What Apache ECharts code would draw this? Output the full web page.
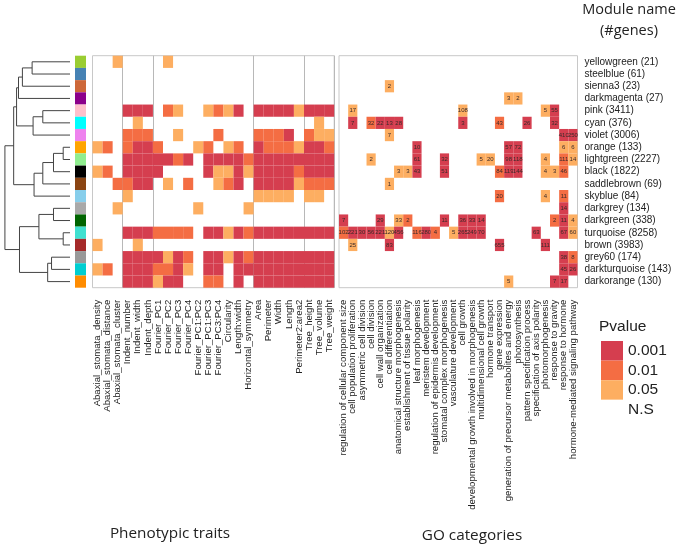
<!DOCTYPE html>
<html><head><meta charset="utf-8">
<script src="https://cdn.jsdelivr.net/npm/echarts@6/dist/echarts.min.js"></script>
<style>html,body{margin:0;padding:0;background:#fff}#c{width:680px;height:548px}</style>
</head><body><div id="c"></div>
<script>
const modules = ['yellowgreen','steelblue','sienna3','darkmagenta','pink','cyan','violet','orange','lightgreen','black','saddlebrown','skyblue','darkgrey','darkgreen','turquoise','brown','grey60','darkturquoise','darkorange'];
const moduleGenes = [21,61,23,27,3411,376,3006,133,2227,1822,69,84,134,338,8258,3983,174,143,130];
const moduleColors = ['#9ACD32','#4682B4','#CD6839','#8B008B','#FFC0CB','#00FFFF','#EE82EE','#FFA500','#90EE90','#000000','#8B4513','#87CEEB','#A9A9A9','#006400','#40E0D0','#A52A2A','#999999','#00CED1','#FF8C00'];
const traits = ['Abaxial_stomata_density','Abaxial_stomata_distance','Abaxial_stomata_cluster','Indent_number','Indent_width','Indent_depth','Fourier_PC1','Fourier_PC2','Fourier_PC3','Fourier_PC4','Fourier_PC1:PC2','Fourier_PC1:PC3','Fourier_PC3:PC4','Circularity','Length:width','Horizontal_symmetry','Area','Perimeter','Width','Length','Perimeter2:area2','Tree_height','Tree_volume','Tree_weight'];
const traitGroupStarts = [3,6,16,21];
const goTerms = ['regulation of cellular component size','cell population proliferation','asymmetric cell division','cell division','cell wall organization','cell differentiation','anatomical structure morphogenesis','establishment of tissue polarity','leaf morphogenesis','meristem development','regulation of epidermis development','stomatal complex morphogenesis','vasculature development','cell growth','developmental growth involved in morphogenesis','multidimensional cell growth','hormone transport','gene expression','generation of precursor metabolites and energy','photosynthesis','pattern specification process','specification of axis polarity','photomorphogenesis','response to gravity','response to hormone','hormone-mediated signaling pathway'];
const pLevels = ['0.001','0.01','0.05','N.S'];
// level per module row (1 = 0.001, 2 = 0.01, 3 = 0.05, 0 = N.S)
const traitLevels = [
 [0,0,3,0,0,0,0,3,0,0,0,0,0,0,0,0,0,0,0,0,0,0,0,0],
 [0,0,0,0,0,0,0,0,0,0,0,0,0,0,0,0,0,0,0,0,0,0,0,0],
 [0,0,0,0,0,0,0,0,0,0,0,0,0,0,0,0,0,0,0,0,0,0,0,0],
 [0,0,0,0,0,0,0,0,0,0,0,0,0,0,0,0,0,0,0,0,0,0,0,0],
 [0,0,0,1,1,1,0,2,3,0,0,3,2,3,1,0,1,1,1,1,3,1,1,1],
 [0,0,0,0,3,0,0,0,0,0,0,0,0,0,0,0,0,0,0,0,0,0,3,0],
 [0,0,0,2,2,2,0,0,3,0,0,0,2,0,0,0,2,2,2,1,0,2,3,3],
 [3,2,0,2,1,1,2,0,0,0,3,2,0,3,2,0,1,2,2,2,3,1,1,2],
 [0,0,0,1,1,1,1,1,2,1,0,1,1,1,1,2,1,1,1,1,1,1,1,1],
 [3,2,0,1,1,1,1,0,0,0,0,1,3,3,1,3,1,1,1,1,2,1,1,1],
 [0,0,2,2,1,1,0,3,0,2,0,0,3,2,1,0,1,1,1,1,3,2,2,2],
 [0,0,0,3,0,0,0,0,0,0,0,0,0,0,0,0,3,3,3,3,0,3,3,0],
 [0,0,3,0,0,0,0,0,0,0,3,0,0,0,0,3,0,0,0,0,0,0,0,0],
 [0,0,0,0,0,0,0,0,0,0,0,0,0,0,0,0,0,0,0,0,0,0,0,0],
 [0,0,0,1,1,1,2,2,2,2,0,1,1,3,1,2,1,1,1,1,1,1,1,1],
 [3,0,0,0,3,0,0,0,0,0,0,0,0,0,0,0,0,0,0,0,0,0,0,0],
 [0,0,0,1,1,1,1,3,1,2,0,1,1,3,1,2,1,1,1,1,1,1,1,1],
 [3,2,0,1,1,1,2,2,1,3,0,1,1,0,1,1,1,1,1,1,1,1,1,1],
 [0,0,0,1,1,1,3,1,1,0,0,2,2,0,1,0,1,1,1,1,1,1,1,1]
];
// GO enrichment: [term index, module index, level, gene count]
const goCells = [
 [5,2,3,2],
 [18,3,3,3],[19,3,3,2],
 [1,4,3,17],[13,4,3,108],[22,4,3,5],[23,4,1,55],
 [1,5,1,7],[3,5,2,32],[4,5,1,22],[5,5,1,13],[6,5,1,28],[13,5,1,3],[17,5,2,43],[20,5,1,26],[23,5,1,32],
 [5,6,3,7],[24,6,1,410],[25,6,1,250],
 [8,7,1,10],[18,7,1,57],[19,7,1,72],[24,7,3,6],[25,7,3,6],
 [3,8,3,2],[8,8,1,61],[11,8,1,32],[15,8,3,5],[16,8,3,20],[18,8,1,98],[19,8,1,118],[22,8,3,4],[24,8,2,111],[25,8,3,14],
 [6,9,3,3],[7,9,3,3],[8,9,1,43],[11,9,1,51],[17,9,2,84],[18,9,1,119],[19,9,1,144],[22,9,3,4],[23,9,3,3],[24,9,2,46],
 [5,10,3,1],
 [17,11,2,20],[22,11,3,4],[24,11,2,11],
 [24,12,1,14],
 [0,13,1,7],[4,13,1,29],[6,13,3,33],[7,13,2,2],[11,13,1,11],[13,13,1,36],[14,13,1,33],[15,13,1,14],[23,13,2,2],[24,13,1,11],[25,13,3,4],
 [0,14,2,102],[1,14,1,221],[2,14,1,30],[3,14,1,56],[4,14,1,221],[5,14,3,120],[6,14,1,456],[8,14,2,116],[9,14,1,280],[10,14,2,4],[12,14,3,5],[13,14,1,265],[14,14,1,249],[15,14,1,70],[21,14,1,63],[24,14,1,67],[25,14,3,60],
 [1,15,3,25],[5,15,1,83],[17,15,1,655],[22,15,1,111],
 [24,16,1,38],[25,16,2,8],
 [24,17,1,45],[25,17,1,26],
 [18,18,3,5],[23,18,1,7],[24,18,1,17]
];
// dendrogram merges (hclust style: negative = leaf number, positive = earlier merge), with height
const dendroMerges = [
 [-1,-2,39],[1,-3,49],[2,-4,53],
 [-5,-6,28],[4,-7,38],[3,5,55],
 [-8,-9,7],[7,-10,17],[8,-11,28],[9,-12,37],[6,10,58],
 [-13,-14,17],[-15,-16,7],[12,13,32],
 [-17,-18,19],[15,-19,23],[14,16,52],
 [11,17,67]
];

const chart = echarts.init(document.getElementById('c'), null, {renderer:'canvas'});
const FONT = 'Liberation Sans, Arial, sans-serif';
const TOP = 55.7, H = 232;

// significance rank for the colour scale: 3 = 0.001 ... 0 = N.S
const sig = l => l ? 4 - l : 0;

const nodes = [];
const segs = [];
function nodeInfo(id){
  if (id < 0) return {y: -id - 1, h: 0};
  return nodes[id - 1];
}
dendroMerges.forEach(m => {
  const a = nodeInfo(m[0]), b = nodeInfo(m[1]), h = m[2];
  segs.push([a.h, a.y, h, a.y]);
  segs.push([b.h, b.y, h, b.y]);
  segs.push([h, a.y, h, b.y]);
  nodes.push({y: (a.y + b.y) / 2, h: h});
});

const pheno = [];
traitLevels.forEach((row, r) => row.forEach((v, c) => { if (v) pheno.push([c, r, sig(v)]); }));
const goData = goCells.map(d => [d[0], d[1], sig(d[2]), d[3]]);

function cellRender(params, api) {
  const c = api.coord([api.value(0), api.value(1)]);
  const s = api.size([1, 1]);
  const children = [{
    type: 'rect',
    shape: {x: c[0] - s[0]/2, y: c[1] - s[1]/2, width: s[0], height: s[1]},
    style: {fill: api.visual('color')}
  }];
  const n = api.value(3);
  if (n !== undefined && !isNaN(n)) {
    children.push({type:'text', style:{text: String(n), x: c[0], y: c[1], align:'center', verticalAlign:'middle', fontSize: 6, fontFamily: FONT, fill:'#3a2a2a'}});
  }
  return {type:'group', children};
}

const hiddenCat = (gi, data, inverse) => ({gridIndex: gi, type:'category', data, inverse: !!inverse, show:false});

const option = {
  animation: false,
  textStyle: {fontFamily: FONT},
  title: [
    {text:'Module name\n(#genes)', left: 629, top: -1, padding: 0, textAlign:'center', textStyle:{fontFamily:'Open Sans', fontSize:14.5, fontWeight:'normal', lineHeight:21, color:'#222'}},
    {text:'Phenotypic traits', left: 170, top: 526, padding: 0, textAlign:'center', textStyle:{fontFamily:'Open Sans', fontSize:15.3, fontWeight:'normal', color:'#222'}},
    {text:'GO categories', left: 472, top: 528, padding: 0, textAlign:'center', textStyle:{fontFamily:'Open Sans', fontSize:15.3, fontWeight:'normal', color:'#222'}},
    {text:'Pvalue', left: 599, top: 319, padding: 0, textStyle:{fontFamily: FONT, fontSize:15.5, fontWeight:'normal', color:'#222'}}
  ],
  grid: [
    {left: 2, top: TOP, width: 68, height: H},
    {left: 75, top: TOP, width: 11, height: H},
    {left: 92.5, top: TOP, width: 241.7, height: H, show: true, borderColor:'#c8c8c8', borderWidth:1, backgroundColor:'transparent'},
    {left: 339, top: TOP, width: 238.5, height: H, show: true, borderColor:'#c8c8c8', borderWidth:1, backgroundColor:'transparent'}
  ],
  xAxis: [
    {gridIndex:0, type:'value', min:0, max:70, inverse:true, show:false},
    hiddenCat(1, ['m']),
    {gridIndex:2, type:'category', data: traits, axisLine:{show:false}, axisTick:{show:false},
     axisLabel:{rotate:90, interval:0, fontSize:9.6, color:'#222', margin:12},
     splitLine:{show:true, interval:(i) => traitGroupStarts.indexOf(i) >= 0, lineStyle:{color:'#b8b8b8', width:1}}},
    {gridIndex:3, type:'category', data: goTerms, axisLine:{show:false}, axisTick:{show:false},
     axisLabel:{rotate:90, interval:0, fontSize:9.6, color:'#222', margin:12}}
  ],
  yAxis: [
    {gridIndex:0, type:'value', min:-0.5, max:18.5, inverse:true, show:false},
    hiddenCat(1, modules, true),
    hiddenCat(2, modules, true),
    {gridIndex:3, type:'category', data: modules.map((m,i) => m + ' (' + moduleGenes[i] + ')'), inverse:true, position:'right',
     axisLine:{show:false}, axisTick:{show:false}, axisLabel:{interval:0, fontSize:10, color:'#222', margin:7}}
  ],
  visualMap: {
    type:'piecewise', dimension:2, seriesIndex:[2,3], selectedMode:false, orient:'vertical', align:'left',
    left: 601, top: 341, padding: 0, itemWidth: 22, itemHeight: 19.6, itemGap: 0, itemSymbol:'rect', textGap: 5,
    textStyle:{fontSize:15.5, color:'#222', fontFamily: FONT},
    pieces: [
      {value:3, label:pLevels[0], color:'#D53E4F'},
      {value:2, label:pLevels[1], color:'#F46D43'},
      {value:1, label:pLevels[2], color:'#FDAE61'},
      {value:0, label:pLevels[3], color:'#FFFFFF'}
    ]
  },
  series: [
    {type:'custom', xAxisIndex:0, yAxisIndex:0, data: segs, silent:true,
     renderItem: (p, api) => {
       const a = api.coord([api.value(0), api.value(1)]);
       const b = api.coord([api.value(2), api.value(3)]);
       return {type:'line', shape:{x1:a[0], y1:a[1], x2:b[0], y2:b[1]}, style:{stroke:'#444', lineWidth:1}};
     }},
    {type:'custom', xAxisIndex:1, yAxisIndex:1, data: modules.map((m,i) => [0, i]), silent:true,
     renderItem: (p, api) => {
       const c = api.coord([api.value(0), api.value(1)]);
       const s = api.size([1,1]);
       return {type:'rect', shape:{x:c[0]-s[0]/2, y:c[1]-s[1]/2, width:s[0], height:s[1]}, style:{fill: moduleColors[p.dataIndex]}};
     }},
    {type:'custom', xAxisIndex:2, yAxisIndex:2, data: pheno, renderItem: cellRender, silent:true},
    {type:'custom', xAxisIndex:3, yAxisIndex:3, data: goData, renderItem: cellRender, silent:true}
  ]
};
chart.setOption(option);
</script>
</body></html>
